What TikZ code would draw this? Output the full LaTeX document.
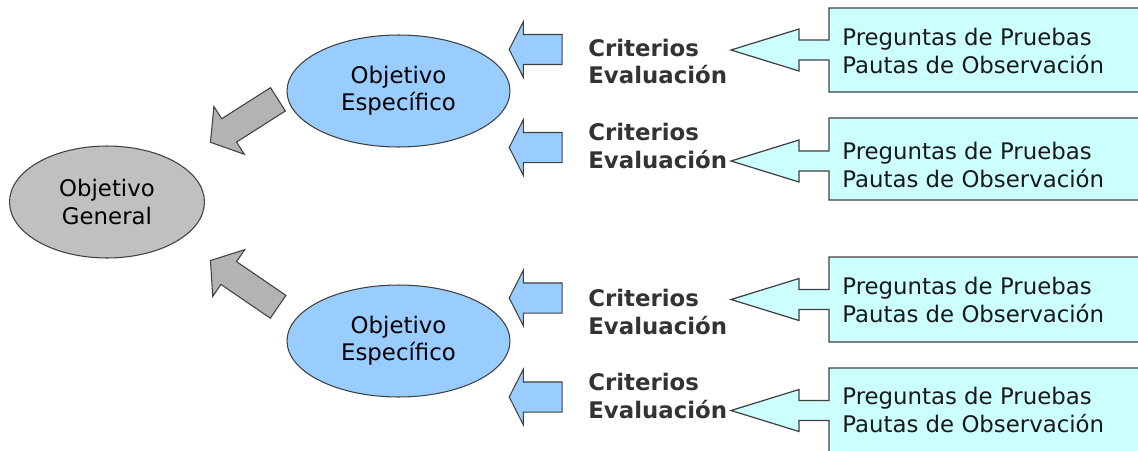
\documentclass[tikz,border=0pt]{standalone}
\usepackage{fontspec}
\setmainfont{DejaVu Sans}
\usetikzlibrary{shapes.geometric,shapes.arrows}

\definecolor{objgray}{HTML}{C0C0C0}
\definecolor{arrgray}{HTML}{B3B3B3}
\definecolor{objblue}{HTML}{99CCFF}
\definecolor{boxcyan}{HTML}{CCFFFF}
\definecolor{labelgray}{HTML}{333333}

\tikzset{
  objetivo/.style={ellipse, draw=black!75, line width=0.6pt, inner sep=0pt,
    minimum height=2.24cm, align=center, font=\fontsize{13}{15.5}\selectfont},
  bigarrow/.style={single arrow, draw=black!75, fill=arrgray, line width=0.6pt,
    inner xsep=0pt, inner ysep=0.266cm, single arrow head extend=0.29cm,
    single arrow tip angle=104},
  bluearrow/.style={single arrow, draw=black!75, fill=objblue, line width=0.6pt,
    inner xsep=0pt, inner ysep=0.29cm, minimum height=1.06cm,
    single arrow head extend=0.26cm, single arrow tip angle=126,
    shape border rotate=180},
  criterio/.style={anchor=west, inner sep=0pt, align=left, text=labelgray,
    font=\fontsize{13}{15.5}\selectfont\bfseries},
  pauta/.style={anchor=west, inner sep=0pt, align=left, text=black!90,
    font=\fontsize{13}{16}\selectfont},
  pointbox/.style={draw=black!75, fill=boxcyan, line width=0.7pt}
}

% box with arrow pointer: tip name, top, bottom, pointer centre
\newcommand{\callout}[4]{%
  \coordinate (#1) at (731,#4);
  \filldraw[pointbox] (1150,#2) -- (829,#2) -- (829,#4-10) -- (799,#4-10)
    -- (799,#4-21) -- (#1) -- (799,#4+21) -- (799,#4+10) -- (829,#4+10)
    -- (829,#3) -- (1150,#3);
}

\begin{document}
\begin{tikzpicture}[x=0.02cm, y=-0.02cm]
  \useasboundingbox (0,0) rectangle (1138,450);
  \clip (0,0) rectangle (1138,450);

  % objectives
  \node [objetivo, fill=objgray, minimum width=3.9cm] (og) at (107,202) {Objetivo\\General};
  \node [objetivo, fill=objblue, minimum width=4.46cm] (oe1) at (398.5,91) {Objetivo\\Específico};
  \node [objetivo, fill=objblue, minimum width=4.46cm] (oe2) at (398.5,341) {Objetivo\\Específico};

  \node [bigarrow, rotate=212.5, minimum height=1.6cm] (ga1) at (248.75,117.9) {};
  \node [bigarrow, rotate=145.6, minimum height=1.64cm] (ga2) at (248.75,286.7) {};

  % criteria
  \node [bluearrow] (ba1) at (539.5,49.5) {};
  \node [bluearrow] (ba2) at (539.5,147.5) {};
  \node [bluearrow] (ba3) at (539.5,298) {};
  \node [bluearrow] (ba4) at (539.5,397) {};

  \node [criterio] (ce1) at (588,61.5) {Criterios\\Evaluación};
  \node [criterio] (ce2) at (588,146) {Criterios\\Evaluación};
  \node [criterio] (ce3) at (588,312) {Criterios\\Evaluación};
  \node [criterio] (ce4) at (588,396) {Criterios\\Evaluación};

  % instruments
  \callout{pt1}{8}{92}{50}
  \callout{pt2}{118}{200}{161}
  \callout{pt3}{257}{342}{299.5}
  \callout{pt4}{368}{452}{410.5}

  \node [pauta] (pp1) at (842,51) {Preguntas de Pruebas\\Pautas de Observación};
  \node [pauta] (pp2) at (842,165) {Preguntas de Pruebas\\Pautas de Observación};
  \node [pauta] (pp3) at (842,300) {Preguntas de Pruebas\\Pautas de Observación};
  \node [pauta] (pp4) at (842,410) {Preguntas de Pruebas\\Pautas de Observación};
\end{tikzpicture}
\end{document}
